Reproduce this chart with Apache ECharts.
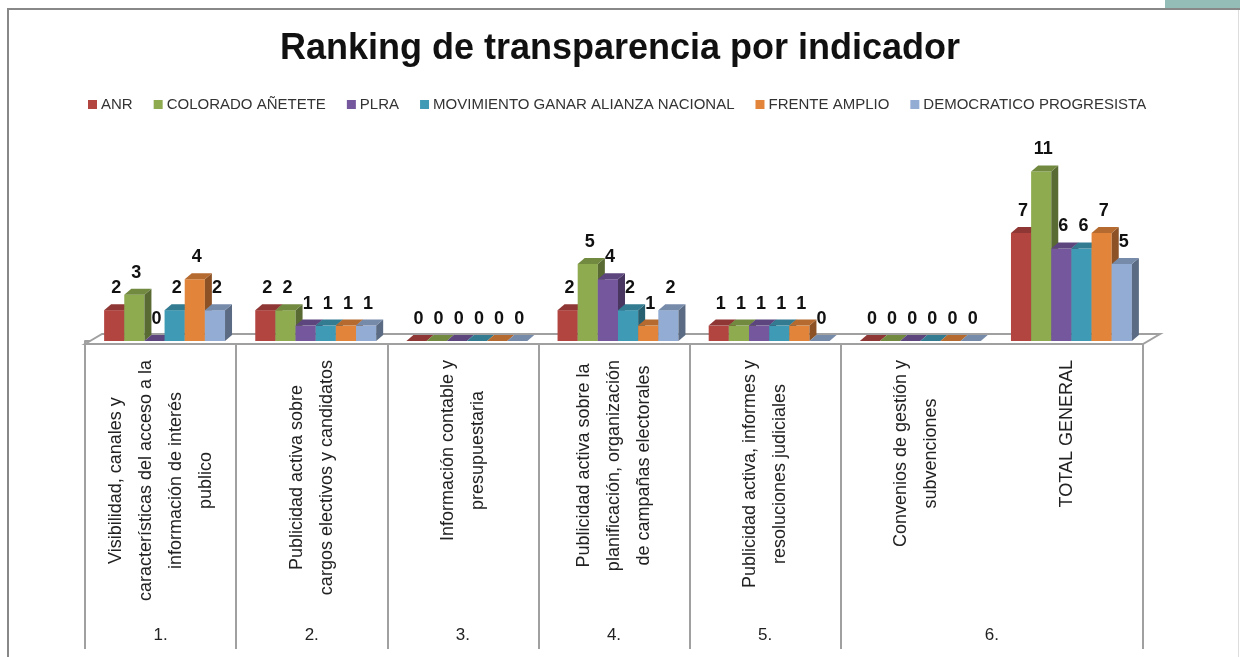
<!DOCTYPE html>
<html>
<head>
<meta charset="utf-8">
<script src="https://cdn.jsdelivr.net/npm/echarts@6/dist/echarts.min.js"></script>
<style>
  html, body { margin: 0; padding: 0; background: #fff; }
  #chart { width: 1240px; height: 657px; }
</style>
</head>
<body>
<div id="chart"></div>
<script>
// categorias del eje (lineas separadas por \n)
const categories = [
  'Visibilidad, canales y\ncaracterísticas del acceso a la\ninformación de interés\npublico',
  'Publicidad activa sobre\ncargos electivos y candidatos',
  'Información contable y\npresupuestaria',
  'Publicidad activa sobre la\nplanificación, organización\nde campañas electorales',
  'Publicidad activa, informes y\nresoluciones judiciales',
  'Convenios de gestión y\nsubvenciones',
  'TOTAL GENERAL'
];
// segundo nivel del eje y cuantas categorias abarca cada grupo
const groupLabels = ['1.', '2.', '3.', '4.', '5.', '6.'];
const groupSpans = [1, 1, 1, 1, 1, 2];

const partidos = ['ANR', 'COLORADO AÑETETE', 'PLRA', 'MOVIMIENTO GANAR ALIANZA NACIONAL', 'FRENTE AMPLIO', 'DEMOCRATICO PROGRESISTA'];
const colores = ['#B34541', '#8FAB50', '#74579C', '#3E9AB5', '#E2853B', '#93ACD4'];

const anr = [2, 2, 0, 2, 1, 0, 7];
const colorado = [3, 2, 0, 5, 1, 0, 11];
const plra = [0, 1, 0, 4, 1, 0, 6];
const movimiento = [2, 1, 0, 2, 1, 0, 6];
const frente = [4, 1, 0, 1, 1, 0, 7];
const democratico = [2, 1, 0, 2, 0, 0, 5];
const valores = [anr, colorado, plra, movimiento, frente, democratico];

const FONT = '"Liberation Sans", Arial, sans-serif';
const DX = 7, DY = 6;

function shade(hex, f) {
  const n = parseInt(hex.slice(1), 16);
  const r = Math.round(((n >> 16) & 255) * f);
  const g = Math.round(((n >> 8) & 255) * f);
  const b = Math.round((n & 255) * f);
  return 'rgb(' + r + ',' + g + ',' + b + ')';
}

// posiciones del segundo nivel (eje de valores en medias categorias)
const groupPos = {};
const hiddenTicks = {};
let start = 0;
groupSpans.forEach(function (span, i) {
  groupPos[2 * start + span] = groupLabels[i];
  for (let k = 1; k < span; k++) hiddenTicks[start + k] = true;
  start += span;
});

const chart = echarts.init(document.getElementById('chart'));

function barRender(sIdx) {
  return function (params, api) {
    const ci = api.value(0);
    const v = api.value(1);
    const top = api.coord([ci, v]);
    const base = api.coord([ci, 0]);
    const band = api.size([1, 0])[0];
    const w = band * 0.8 / partidos.length;
    const x = base[0] - w * partidos.length / 2 + sIdx * w + 4;
    const y0 = base[1];
    const y1 = top[1];
    const c = colores[sIdx];
    const children = [
      { type: 'polygon', shape: { points: [[x + w, y1], [x + w + DX, y1 - DY], [x + w + DX, y0 - DY], [x + w, y0]] }, style: { fill: shade(c, 0.62) } },
      { type: 'polygon', shape: { points: [[x, y1], [x + DX, y1 - DY], [x + w + DX, y1 - DY], [x + w, y1]] }, style: { fill: shade(c, 0.8) } },
      { type: 'text', z2: 100, style: { text: String(v), x: x + w / 2 + 2, y: y1 - 13, align: 'center', verticalAlign: 'bottom', font: 'bold 18px ' + FONT, fill: '#111' } }
    ];
    if (y0 - y1 > 0.5) {
      children.unshift({ type: 'rect', shape: { x: x, y: y1, width: w, height: y0 - y1 }, style: { fill: c } });
    }
    return { type: 'group', children: children };
  };
}

const series = [{
  name: 'piso',
  type: 'custom',
  silent: true,
  data: [[0, 0]],
  renderItem: function (params, api) {
    const band = api.size([1, 0])[0];
    const p0 = api.coord([0, 0]);
    const p1 = api.coord([categories.length - 1, 0]);
    const l = p0[0] - band / 2, r = p1[0] + band / 2, y = p0[1];
    return {
      type: 'polygon',
      shape: { points: [[l, y + 3], [l + 17, y - 7], [r + 17, y - 7], [r, y + 3]] },
      style: { fill: '#fff', stroke: '#A0A0A0', lineWidth: 2 }
    };
  }
}];

partidos.forEach(function (p, i) {
  series.push({
    name: p,
    type: 'custom',
    itemStyle: { color: colores[i] },
    data: valores[i].map(function (v, ci) { return [ci, v]; }),
    renderItem: barRender(i)
  });
});

chart.setOption({
  animation: false,
  backgroundColor: '#fff',
  title: {
    text: 'Ranking de transparencia por indicador',
    left: 'center',
    top: 26,
    textStyle: { fontSize: 36, fontWeight: 'bold', color: '#111', fontFamily: FONT }
  },
  legend: {
    data: partidos,
    left: 83,
    top: 92,
    icon: 'rect',
    itemWidth: 9,
    itemHeight: 9,
    itemGap: 21,
    textStyle: { fontSize: 15, color: '#333', fontFamily: FONT, padding: [0, 0, 0, -1] }
  },
  grid: { left: 85, right: 97, top: 156, bottom: 316 },
  xAxis: [{
    type: 'category',
    data: categories,
    offset: 3,
    axisLine: { lineStyle: { color: '#A0A0A0', width: 2 } },
    axisTick: {
      show: true,
      length: 308,
      interval: function (idx) { return !hiddenTicks[idx]; },
      lineStyle: { color: '#A0A0A0', width: 2 }
    },
    axisLabel: {
      rotate: 90,
      margin: 16,
      interval: 0,
      formatter: function (v) {
        return v.split('\n').map(function (s) { return '{c|' + s + '}'; }).join('\n');
      },
      rich: { c: { align: 'center', fontSize: 18, lineHeight: 30, color: '#222', fontFamily: FONT } }
    }
  }, {
    type: 'value',
    position: 'bottom',
    min: 0,
    max: categories.length * 2,
    interval: 1,
    axisLine: { show: false },
    axisTick: { show: false },
    splitLine: { show: false },
    axisLabel: {
      margin: 286,
      fontSize: 17,
      color: '#222',
      fontFamily: FONT,
      formatter: function (v) { return groupPos[v] || ''; }
    }
  }],
  yAxis: { type: 'value', min: 0, max: 12, show: false },
  graphic: [
    { type: 'rect', shape: { x: 1165, y: 0, width: 75, height: 8 }, style: { fill: '#95BDB8' } },
    { type: 'rect', shape: { x: 7, y: 8, width: 1233, height: 2 }, style: { fill: '#888' } },
    { type: 'rect', shape: { x: 7, y: 8, width: 2, height: 649 }, style: { fill: '#888' } },
    { type: 'rect', shape: { x: 1238, y: 10, width: 1, height: 647 }, style: { fill: '#ddd' } }
  ],
  series: series
});
</script>
</body>
</html>
